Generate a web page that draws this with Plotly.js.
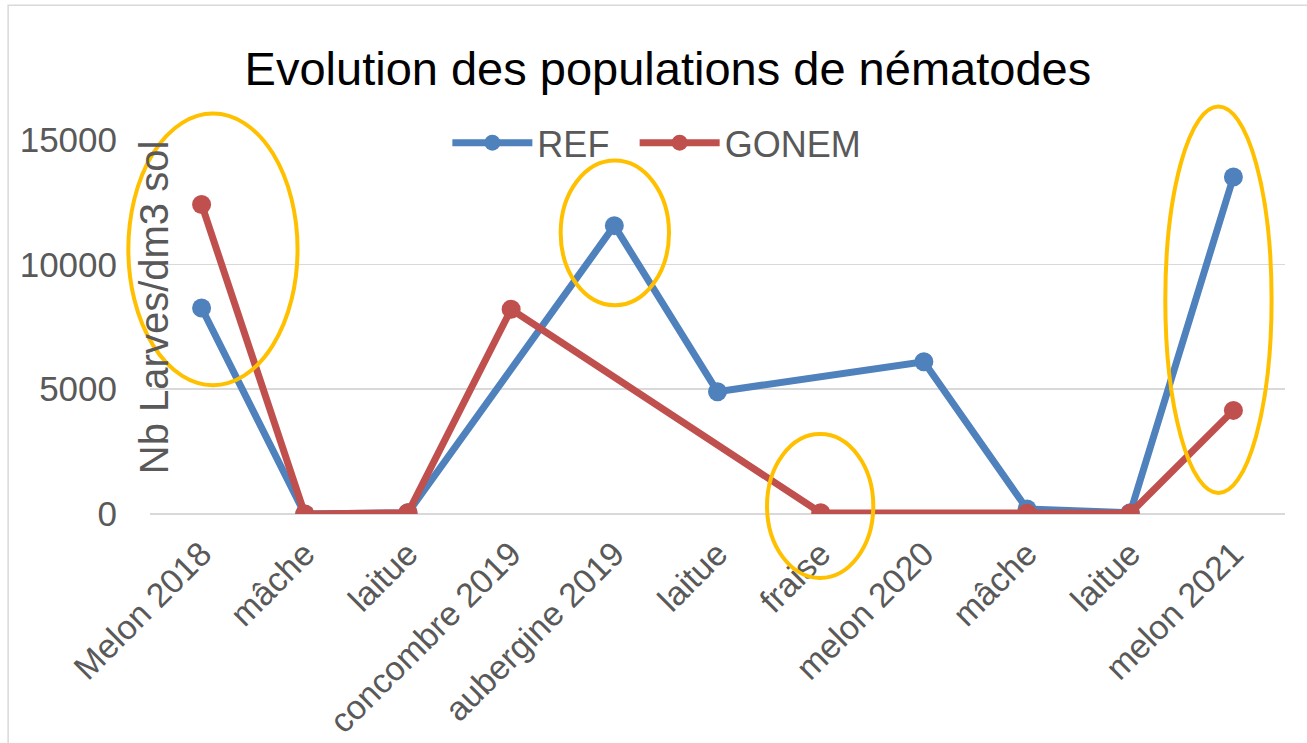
<!DOCTYPE html>
<html>
<head>
<meta charset="utf-8">
<script src="https://cdn.plot.ly/plotly-3.0.1.min.js"></script>
<style>html,body{margin:0;padding:0;background:#fff;}#chart{width:1307px;height:743px;}</style>
</head>
<body>
<div id="chart"></div>
<script>
// ---- data ----
const categories = ["Melon 2018", "mâche", "laitue", "concombre 2019", "aubergine 2019", "laitue", "fraise", "melon 2020", "mâche", "laitue", "melon 2021"];
const refValues   = [8250, 0, 50, null, 11550, 4900, null, 6100, 200, 50, 13500];
const gonemValues = [12400, 0, 50, 8200, null, null, 50, null, 30, 30, 4150];
const seriesNames = ["REF", "GONEM"];
const yTickValues = [0, 5000, 10000, 15000];
const yTickLabels = ["0", "5000", "10000", "15000"];
// highlighted zones (category index range, value range)
const highlightX = [[-0.71, 0.93], [3.48, 4.53], [5.48, 6.51], [9.34, 10.37]];
const highlightY = [[5160, 16040], [8360, 14160], [-2560, 3200], [840, 16320]];

const idx = categories.map((_, i) => i);
const xRange = [-0.5, categories.length - 0.5];
const yRange = [0, 15020];
const FONT = "Liberation Sans, Arial, sans-serif";
const GRAY = "#595959";

const toPx = v => (v - xRange[0]) / (xRange[1] - xRange[0]);
const toPy = v => (v - yRange[0]) / (yRange[1] - yRange[0]);

const shapes = highlightX.map((xr, k) => ({
  type: "circle", xref: "paper", yref: "paper",
  x0: toPx(xr[0]), x1: toPx(xr[1]), y0: toPy(highlightY[k][0]), y1: toPy(highlightY[k][1]),
  line: {color: "#FFC000", width: 4}, fillcolor: "rgba(0,0,0,0)", layer: "above"
}));
// chart-area border (cropped on right/bottom)
shapes.push({type: "rect", xref: "paper", yref: "paper", x0: -0.125, x1: 1.2, y0: -1, y1: 1.357,
  line: {color: "#D9D9D9", width: 1.5}, layer: "below"});

const traces = [
  {x: idx, y: refValues, name: seriesNames[0], type: "scatter", mode: "lines+markers", connectgaps: true,
   legend: "legend", showlegend: true,
   line: {color: "#4F81BD", width: 7}, marker: {color: "#4F81BD", size: 19}},
  {x: idx, y: gonemValues, name: seriesNames[1], type: "scatter", mode: "lines+markers", connectgaps: true,
   legend: "legend2", showlegend: true,
   line: {color: "#C0504D", width: 7}, marker: {color: "#C0504D", size: 19}}
];

const legendBase = {orientation: "h", xanchor: "left", y: 0.99, yanchor: "middle", visible: true,
  bgcolor: "rgba(0,0,0,0)", font: {size: 36, color: GRAY, family: FONT}, itemwidth: 80};

const layout = {
  width: 1307, height: 743,
  showlegend: true,
  margin: {l: 150, r: 22, t: 139, b: 229},
  paper_bgcolor: "#fff", plot_bgcolor: "#fff",
  font: {family: FONT, color: GRAY},
  title: {text: "Evolution des populations de nématodes", font: {family: FONT, size: 47, color: "#000"},
          xref: "container", x: 0.511, xanchor: "center", yref: "container", y: 0.908, yanchor: "middle"},
  xaxis: {range: xRange, tickmode: "array", tickvals: idx, ticktext: categories, tickangle: -45,
          tickfont: {size: 34, color: GRAY, family: FONT}, showgrid: false, zeroline: false,
          showline: false, ticks: "", ticklabelstandoff: 12, fixedrange: true},
  yaxis: {range: yRange, tickmode: "array", tickvals: yTickValues, ticktext: yTickLabels,
          tickfont: {size: 35, color: GRAY, family: FONT}, showgrid: true, gridcolor: "#D9D9D9", gridwidth: 1.5,
          zeroline: true, zerolinecolor: "#D9D9D9", zerolinewidth: 1.5, showline: false, ticks: "",
          ticklabelstandoff: 32, fixedrange: true},
  legend: Object.assign({}, legendBase, {x: 0.262}),
  legend2: Object.assign({}, legendBase, {x: 0.427}),
  shapes: shapes,
  annotations: [{text: "Nb Larves/dm3 sol", textangle: -90, xref: "paper", yref: "paper",
                 x: 0.003, y: 0.55, xanchor: "center", yanchor: "middle", showarrow: false,
                 font: {size: 40, color: GRAY, family: FONT}}]
};

Plotly.newPlot("chart", traces, layout, {displayModeBar: false, staticPlot: true});
</script>
</body>
</html>
